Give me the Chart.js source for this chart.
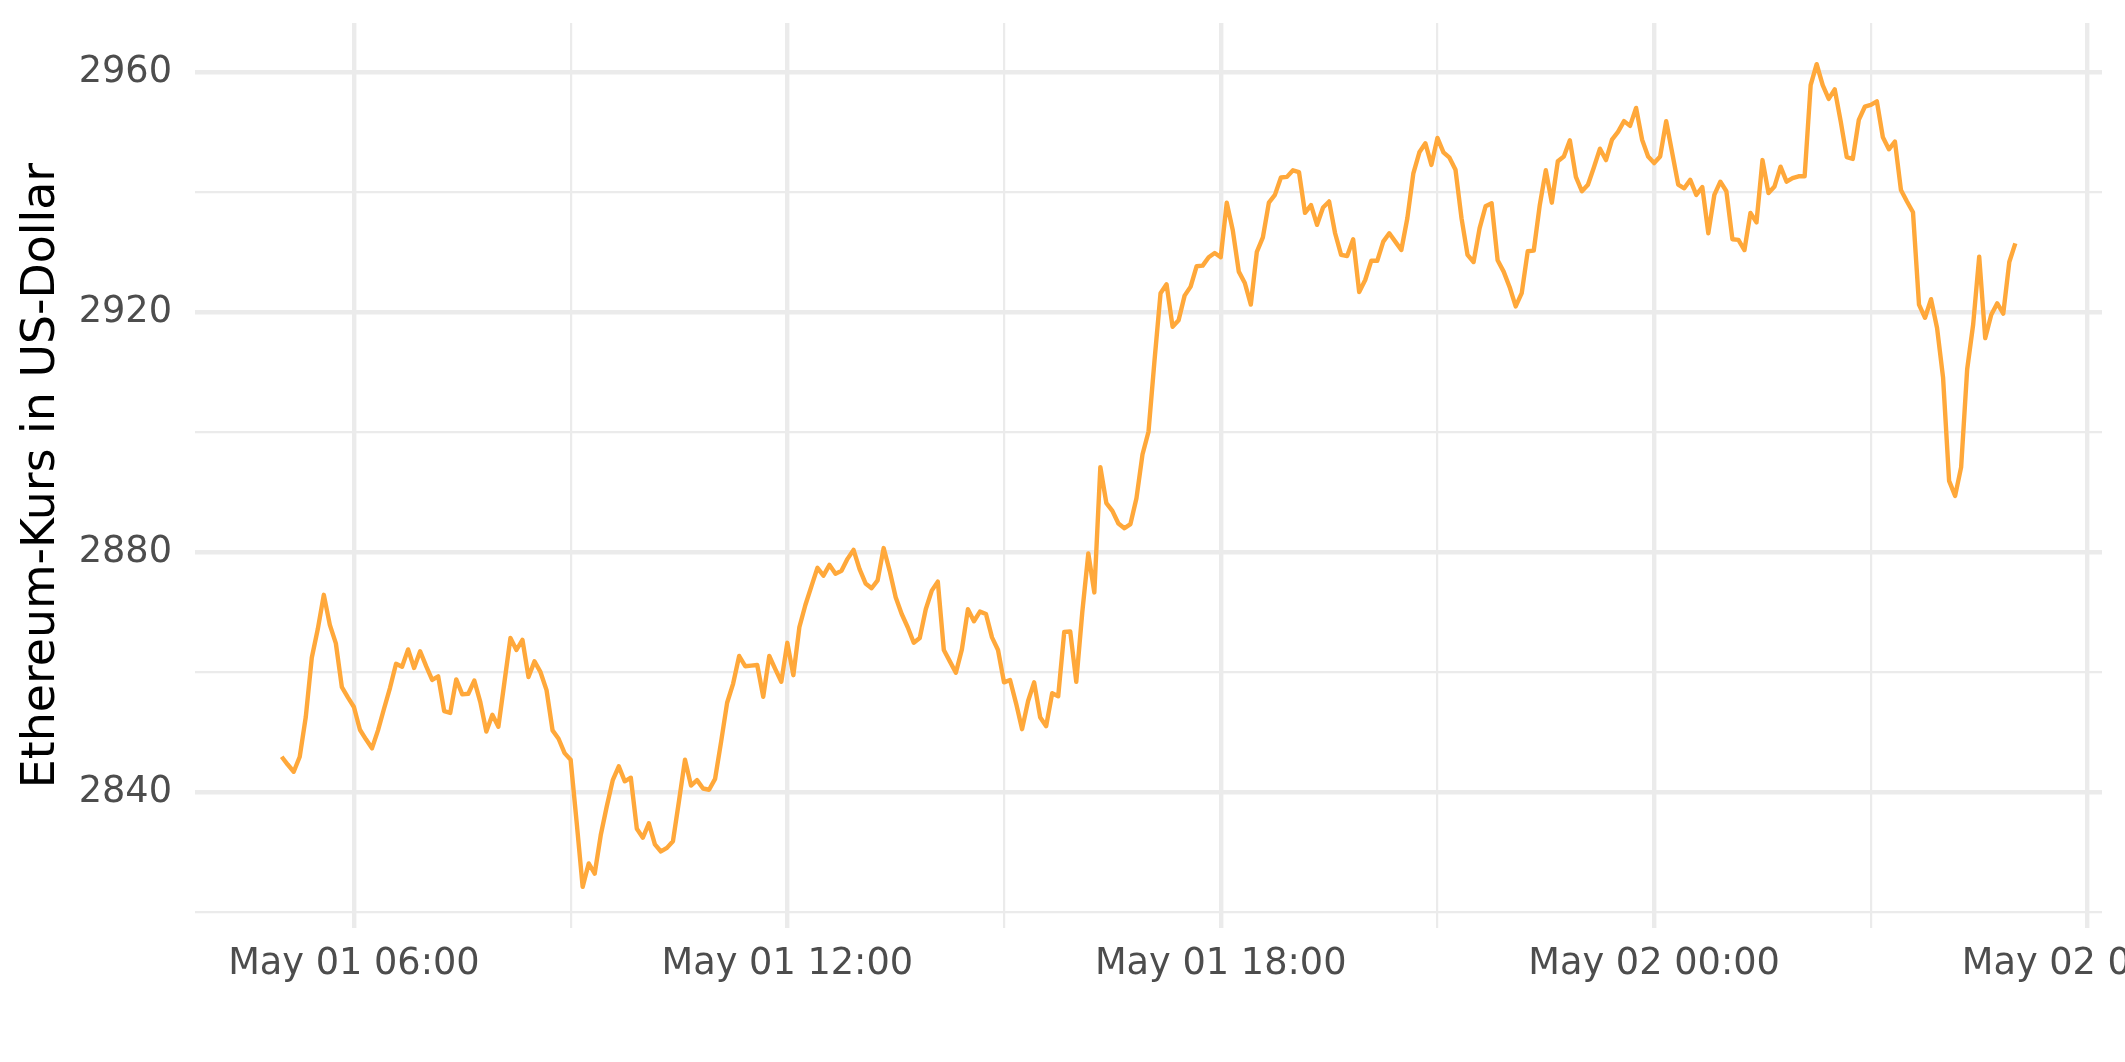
<!DOCTYPE html>
<html>
<head>
<meta charset="utf-8">
<script src="https://cdn.jsdelivr.net/npm/chart.js@4.4.1/dist/chart.umd.min.js"></script>
<style>
  html, body { margin: 0; padding: 0; background: #ffffff; }
  #wrap { width: 2125px; height: 1062px; }
</style>
</head>
<body>
<div id="wrap"><canvas id="c" width="2125" height="1062"></canvas></div>
<script>
// ---- data (5-minute Ethereum prices, May 01 05:00 -> May 02 05:00) ----
const startHour = 5;          // hours after May 01 00:00
const stepMinutes = 5;
const prices = [
  2845.9, 2844.6, 2843.4, 2845.9, 2852.5, 2862.4, 2867.2, 2872.9, 2867.9, 2864.8,
  2857.5, 2855.8, 2854.2, 2850.4, 2848.8, 2847.3, 2850.3, 2853.9, 2857.4, 2861.4,
  2860.9, 2863.8, 2860.7, 2863.5, 2861.0, 2858.7, 2859.3, 2853.5, 2853.2, 2858.8,
  2856.3, 2856.4, 2858.6, 2855.0, 2850.1, 2852.9, 2850.9, 2858.3, 2865.7, 2863.7,
  2865.4, 2859.2, 2861.8, 2860.0, 2857.0, 2850.3, 2848.9, 2846.5, 2845.4, 2835.0,
  2824.2, 2828.1, 2826.4, 2832.8, 2837.6, 2842.0, 2844.3, 2841.8, 2842.4, 2833.9,
  2832.4, 2834.8, 2831.3, 2830.1, 2830.7, 2831.8, 2838.5, 2845.4, 2841.1, 2842.0,
  2840.6, 2840.4, 2842.2, 2848.4, 2854.9, 2858.1, 2862.7, 2861.0, 2861.1, 2861.2,
  2855.9, 2862.7, 2860.5, 2858.4, 2864.9, 2859.5, 2867.5, 2871.2, 2874.3, 2877.4,
  2876.1, 2877.9, 2876.4, 2876.9, 2878.9, 2880.4, 2877.2, 2874.8, 2874.0, 2875.3,
  2880.7, 2876.9, 2872.5, 2869.7, 2867.5, 2864.9, 2865.7, 2870.5, 2873.6, 2875.1,
  2863.7, 2861.8, 2859.9, 2863.8, 2870.5, 2868.5, 2870.1, 2869.7, 2865.8, 2863.7,
  2858.3, 2858.7, 2854.8, 2850.5, 2855.2, 2858.3, 2852.5, 2851.0, 2856.5, 2856.0,
  2866.7, 2866.8, 2858.4, 2870.0, 2879.8, 2873.3, 2894.2, 2888.2, 2886.9, 2884.8,
  2884.0, 2884.7, 2889.0, 2896.3, 2900.1, 2912.0, 2923.2, 2924.7, 2917.6, 2918.7,
  2922.8, 2924.3, 2927.7, 2927.8, 2929.2, 2929.9, 2929.2, 2938.3, 2933.7, 2926.8,
  2924.9, 2921.3, 2930.1, 2932.5, 2938.3, 2939.6, 2942.5, 2942.6, 2943.7, 2943.4,
  2936.6, 2937.9, 2934.6, 2937.5, 2938.5, 2933.2, 2929.6, 2929.4, 2932.2, 2923.4,
  2925.4, 2928.6, 2928.6, 2931.8, 2933.2, 2931.8, 2930.4, 2935.7, 2943.2, 2946.7,
  2948.2, 2944.6, 2949.1, 2946.7, 2945.8, 2943.8, 2935.7, 2929.6, 2928.4, 2934.0,
  2937.7, 2938.2, 2928.7, 2926.8, 2924.2, 2921.0, 2923.2, 2930.2, 2930.3, 2937.9,
  2943.7, 2938.3, 2945.2, 2946.0, 2948.7, 2942.6, 2940.2, 2941.3, 2944.2, 2947.3,
  2945.4, 2948.8, 2950.1, 2951.9, 2951.1, 2954.1, 2948.8, 2946.0, 2944.9, 2946.0,
  2951.9, 2946.6, 2941.3, 2940.7, 2942.1, 2939.6, 2940.9, 2933.2, 2939.6, 2941.8,
  2940.2, 2932.2, 2932.1, 2930.4, 2936.6, 2935.0, 2945.4, 2939.9, 2941.0, 2944.3,
  2941.8, 2942.4, 2942.7, 2942.7, 2957.9, 2961.4, 2957.9, 2955.6, 2957.2, 2951.8,
  2945.9, 2945.6, 2952.1, 2954.3, 2954.6, 2955.2, 2949.2, 2947.2, 2948.5, 2940.4,
  2938.5, 2936.7, 2921.3, 2919.1, 2922.2, 2917.4, 2909.1, 2891.9, 2889.4, 2894.2,
  2910.5, 2918.0, 2929.3, 2915.7, 2919.6, 2921.5, 2919.8, 2928.4, 2931.5
];
// axis ticks
const xMajorHours = [6, 12, 18, 24, 30];
const xMajorLabels = ["May 01 06:00", "May 01 12:00", "May 01 18:00", "May 02 00:00", "May 02 06:00"];
const xMinorHours = [9, 15, 21, 27];
const yMajorTicks = [2840, 2880, 2920, 2960];
const yMinorTicks = [2820, 2860, 2900, 2940];
const yTitle = "Ethereum-Kurs in US-Dollar";

// ---- build ----
const times = prices.map((_, i) => startHour + i * stepMinutes / 60);
const points = prices.map((p, i) => ({ x: times[i], y: p }));

const tMin = Math.min(...times), tMax = Math.max(...times);
const pMin = Math.min(...prices), pMax = Math.max(...prices);
const tPad = (tMax - tMin) * 0.05, pPad = (pMax - pMin) * 0.05;

const FONT = "'DejaVu Sans', 'Liberation Sans', sans-serif";
const GRID = '#EBEBEB';
const TICK_COLOR = '#4D4D4D';

const xTickVals = [...xMajorHours, ...xMinorHours].sort((a, b) => a - b);
const yTickVals = [...yMajorTicks, ...yMinorTicks].sort((a, b) => a - b);

new Chart(document.getElementById('c'), {
  type: 'line',
  data: {
    datasets: [{
      data: points,
      borderColor: '#FFA83A',
      borderWidth: 4.4,
      pointRadius: 0,
      tension: 0,
      fill: false,
      borderJoinStyle: 'round',
      borderCapStyle: 'butt'
    }]
  },
  options: {
    responsive: false,
    devicePixelRatio: 1,
    animation: false,
    events: [],
    layout: { padding: { top: 23, right: 23, left: 0, bottom: 0 } },
    plugins: { legend: { display: false }, tooltip: { enabled: false } },
    scales: {
      x: {
        type: 'linear',
        min: tMin - tPad,
        max: tMax + tPad,
        afterBuildTicks: (s) => { s.ticks = xTickVals.map(v => ({ value: v })); },
        afterFit: (s) => { s.height = 134; s.paddingLeft = 0; s.paddingRight = 0; },
        border: { display: false },
        grid: {
          drawTicks: false,
          color: GRID,
          lineWidth: (ctx) => xMajorHours.includes(ctx.tick && ctx.tick.value) ? 4.4 : 2.2
        },
        ticks: {
          autoSkip: false,
          maxRotation: 0,
          minRotation: 0,
          padding: 14,
          color: TICK_COLOR,
          font: { family: FONT, size: 36.7 },
          callback: (v) => {
            const k = xMajorHours.indexOf(v);
            return k >= 0 ? xMajorLabels[k] : '';
          }
        }
      },
      y: {
        type: 'linear',
        min: pMin - pPad,
        max: pMax + pPad,
        afterBuildTicks: (s) => { s.ticks = yTickVals.map(v => ({ value: v })); },
        afterFit: (s) => { s.width = 195; s.paddingTop = 0; s.paddingBottom = 0; },
        border: { display: false },
        grid: {
          drawTicks: false,
          color: GRID,
          lineWidth: (ctx) => yMajorTicks.includes(ctx.tick && ctx.tick.value) ? 4.4 : 2.2
        },
        ticks: {
          padding: 23,
          color: TICK_COLOR,
          font: { family: FONT, size: 36.7 },
          callback: (v) => yMajorTicks.includes(v) ? String(v) : ''
        },
        title: {
          display: true,
          text: yTitle,
          color: '#000000',
          font: { family: FONT, size: 45.8, lineHeight: 1 },
          padding: { top: 19, bottom: 0 }
        }
      }
    }
  }
});
</script>
</body>
</html>
